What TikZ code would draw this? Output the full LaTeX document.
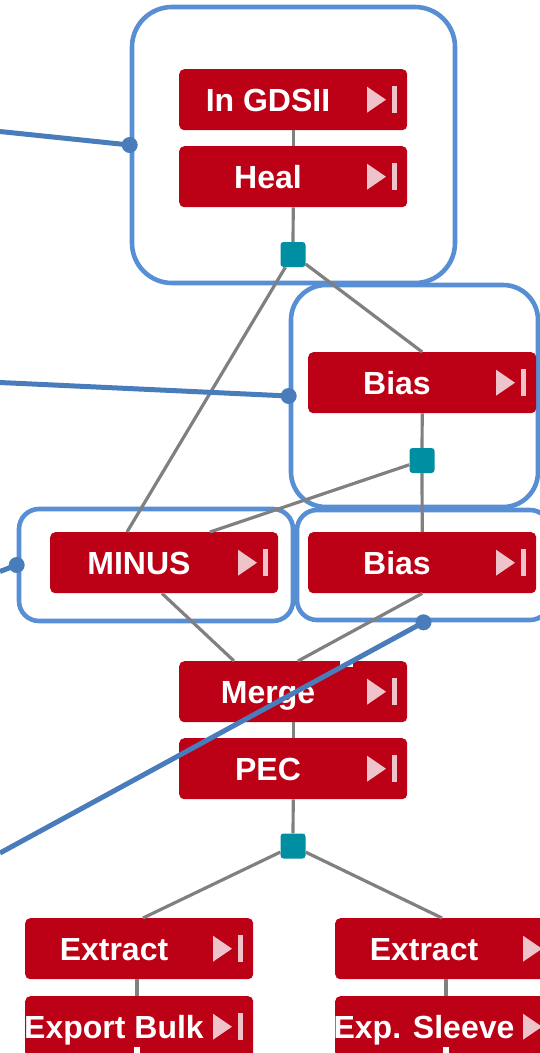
\documentclass[tikz,border=0pt]{standalone}
\usepackage{fontspec}
\setmainfont{Liberation Sans}
\definecolor{opred}{RGB}{188,0,22}
\definecolor{iconpink}{RGB}{238,196,202}
\definecolor{jointc}{RGB}{0,142,163}
\definecolor{grpc}{RGB}{88,142,212}
\definecolor{notec}{RGB}{72,124,186}
\definecolor{edgec}{RGB}{128,128,128}
\tikzset{
  opbox/.style={rectangle, fill=opred, draw=none, rounded corners=5pt, minimum width=228pt, minimum height=61pt, inner sep=0pt, anchor=north west},
  optext/.style={text=white, font=\fontsize{32}{36}\selectfont\bfseries, inner sep=0pt, anchor=base},
  jointbox/.style={rectangle, fill=jointc, draw=none, rounded corners=3pt, minimum size=25pt, inner sep=0pt},
  grpbox/.style={rectangle, draw=grpc, line width=4.6pt, inner sep=0pt},
  edgeline/.style={draw=edgec, line width=3.2pt},
  noteline/.style={draw=notec, line width=5pt},
  notedot/.style={circle, fill=notec, minimum size=16pt, inner sep=0pt},
}
\newcommand\opbox[4]{%
  \node[opbox] (#1) at (#2,#3) {};
  \node[optext] (#1-t) at ([xshift=89pt,yshift=-11.5pt]#1.west) {#4};
  \fill[iconpink] ([xshift=188pt,yshift=13pt]#1.west) -- ([xshift=207pt]#1.west) -- ([xshift=188pt,yshift=-13pt]#1.west) -- cycle;
  \fill[iconpink] ([xshift=213pt,yshift=-13.5pt]#1.west) rectangle ([xshift=218pt,yshift=13.5pt]#1.west);
}
\begin{document}
\begin{tikzpicture}[x=1pt,y=-1pt]
\useasboundingbox (0,0) rectangle (540,1053);
\clip (0,0) rectangle (540,1053);
% group frames
\node[grpbox, rounded corners=40pt, minimum width=323pt, minimum height=276pt] (g1) at (293.5,145) {};
\node[grpbox, rounded corners=35pt, minimum width=247pt, minimum height=222pt] (g2) at (414.5,396) {};
\node[grpbox, rounded corners=20pt, minimum width=274pt, minimum height=112pt] (g3) at (156,565) {};
\node[grpbox, rounded corners=20pt, minimum width=253pt, minimum height=110pt] (g4) at (423.5,565) {};
% operation boxes
\opbox{gds}{179}{69}{In GDSII}
\opbox{heal}{179}{146}{Heal}
\opbox{biasa}{308}{352}{Bias}
\opbox{minus}{50}{532}{MINUS}
\opbox{biasb}{308}{532}{Bias}
\opbox{merge}{179}{661}{Merge}
\opbox{pec}{179}{738}{PEC}
\opbox{exta}{25}{918}{Extract}
\opbox{extb}{335}{918}{Extract}
\opbox{expb}{25}{996}{Export Bulk}
\opbox{exps}{335}{996}{Exp. Sleeve}
% joints
\node[jointbox] (j1) at (293,254.5) {};
\node[jointbox] (j2) at (422,460.5) {};
\node[jointbox] (j3) at (293,846) {};
% edges
\draw[edgeline] (gds.south) -- (heal.north);
\draw[edgeline] (heal.south) -- (j1);
\draw[edgeline] (j1) -- ([xshift=77pt]minus.north west);
\draw[edgeline] (j1) -- (biasa.north);
\draw[edgeline] (biasa.south) -- (j2);
\draw[edgeline] (j2) -- (biasb.north);
\draw[edgeline] (j2) -- ([xshift=160pt]minus.north west);
\draw[edgeline] ([xshift=112pt]minus.south west) -- ([xshift=55pt]merge.north west);
\draw[edgeline] (biasb.south) -- ([xshift=119pt]merge.north west);
\draw[edgeline] (merge.south) -- (pec.north);
\draw[edgeline] (pec.south) -- (j3);
\draw[edgeline] (j3) -- ([xshift=118pt]exta.north west);
\draw[edgeline] (j3) -- ([xshift=107pt]extb.north west);
\draw[edgeline] ([xshift=112pt]exta.south west) -- ([xshift=112pt]expb.north west);
\draw[edgeline] ([xshift=111pt]extb.south west) -- ([xshift=111pt]exps.north west);
% small white marks
\fill[white] ([xshift=161pt]merge.north west) rectangle ([xshift=174pt,yshift=-6pt]merge.north west);
\fill[white] ([xshift=109pt,yshift=-51pt]expb.north west) rectangle ([xshift=115pt,yshift=-60pt]expb.north west);
\fill[white] ([xshift=108pt,yshift=-51pt]exps.north west) rectangle ([xshift=114pt,yshift=-60pt]exps.north west);
% annotation lines
\coordinate (n1) at (0,131.5);
\coordinate (n2) at (0,382.5);
\coordinate (n3) at (0,571.5);
\coordinate (n4) at (0,853);
\node[notedot] (d1) at (g1.west) {};
\node[notedot] (d2) at (g2.west) {};
\node[notedot] (d3) at (g3.west) {};
\node[notedot] (d4) at (g4.south) {};
\draw[noteline] (n1) -- (d1.center);
\draw[noteline] (n2) -- (d2.center);
\draw[noteline] (n3) -- (d3.center);
\draw[noteline] (n4) -- (d4.center);
\end{tikzpicture}
\end{document}
